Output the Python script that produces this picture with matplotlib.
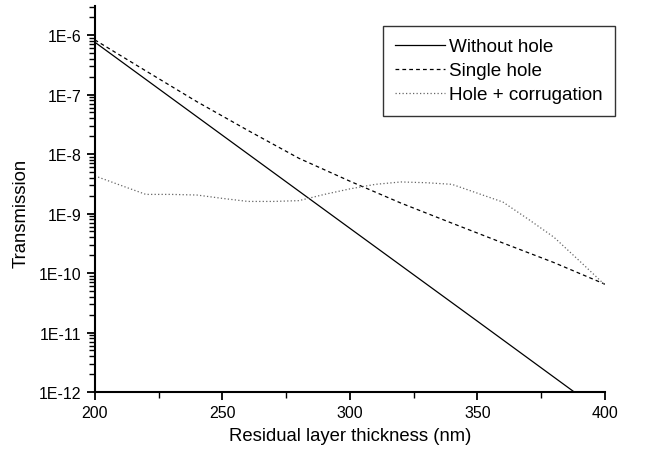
import numpy as np
import matplotlib.pyplot as plt
from matplotlib.ticker import LogLocator, FuncFormatter, MultipleLocator, NullFormatter

plt.rcParams['font.family'] = ['Liberation Sans', 'DejaVu Sans']

# Without hole (straight line on log scale)
x_without = [200, 250, 300, 350, 400]
t_without = [7.6e-7, 2.07e-8, 5.65e-10, 1.55e-11, 4.2e-13]

# Single hole
x_single = [200, 220, 240, 260, 280, 300, 320, 340, 360, 380, 400]
t_single = [8.3e-7, 2.5e-7, 7.6e-8, 2.5e-8, 8.5e-9, 3.5e-9, 1.5e-9, 6.9e-10, 3.2e-10, 1.5e-10, 6.5e-11]

# Hole + corrugation
x_corr = [200, 210, 220, 230, 240, 250, 260, 270, 280, 290, 300,
          310, 320, 330, 340, 350, 360, 370, 380, 390, 400]
t_corr = [4.3e-9, 3.0e-9, 2.1e-9, 2.1e-9, 2.05e-9, 1.8e-9, 1.6e-9, 1.6e-9, 1.65e-9, 2.1e-9, 2.6e-9,
          3.1e-9, 3.4e-9, 3.3e-9, 3.1e-9, 2.2e-9, 1.56e-9, 8.0e-10, 4.0e-10, 1.6e-10, 6.3e-11]

fig = plt.figure(figsize=(6.45, 4.56), dpi=100)
ax = fig.add_axes([0.147, 0.138, 0.791, 0.847])

ax.plot(x_without, t_without, color='black', lw=0.9, ls='-', label='Without hole')
ax.plot(x_single, t_single, color='black', lw=0.9, ls=(0, (3, 2.5)), label='Single hole')
ax.plot(x_corr, t_corr, color='#666666', lw=0.9, ls=(0, (1, 1.8)), label='Hole + corrugation')

ax.set_yscale('log')
ax.set_xlim(200, 400)
ax.set_ylim(1e-12, 3.1e-6)

ax.xaxis.set_major_locator(MultipleLocator(50))
ax.xaxis.set_minor_locator(MultipleLocator(25))
ax.yaxis.set_major_locator(LogLocator(base=10, numticks=20))
ax.yaxis.set_minor_locator(LogLocator(base=10, subs=np.arange(2, 10), numticks=20))
ax.yaxis.set_major_formatter(FuncFormatter(lambda v, p: '1E%d' % round(np.log10(v))))
ax.yaxis.set_minor_formatter(NullFormatter())

for side in ['top', 'right']:
    ax.spines[side].set_visible(False)
for side in ['left', 'bottom']:
    ax.spines[side].set_linewidth(1.5)

ax.tick_params(which='major', direction='out', length=6, width=1.3, labelsize=11.5)
ax.tick_params(which='minor', direction='out', length=4, width=1.0)

ax.set_xlabel('Residual layer thickness (nm)', fontsize=13.3, labelpad=5)
ax.set_ylabel('Transmission', fontsize=13.3)
ax.yaxis.set_label_coords(-0.127, 0.464)

leg = ax.legend(loc='upper right', bbox_to_anchor=(1.02, 0.948), fontsize=13.6,
                frameon=True, fancybox=False, edgecolor='black', handlelength=2.6,
                borderpad=0.65, labelspacing=0.36, handletextpad=0.25, borderaxespad=0)
leg.get_frame().set_linewidth(1.0)

plt.savefig('out.png', dpi=100)
